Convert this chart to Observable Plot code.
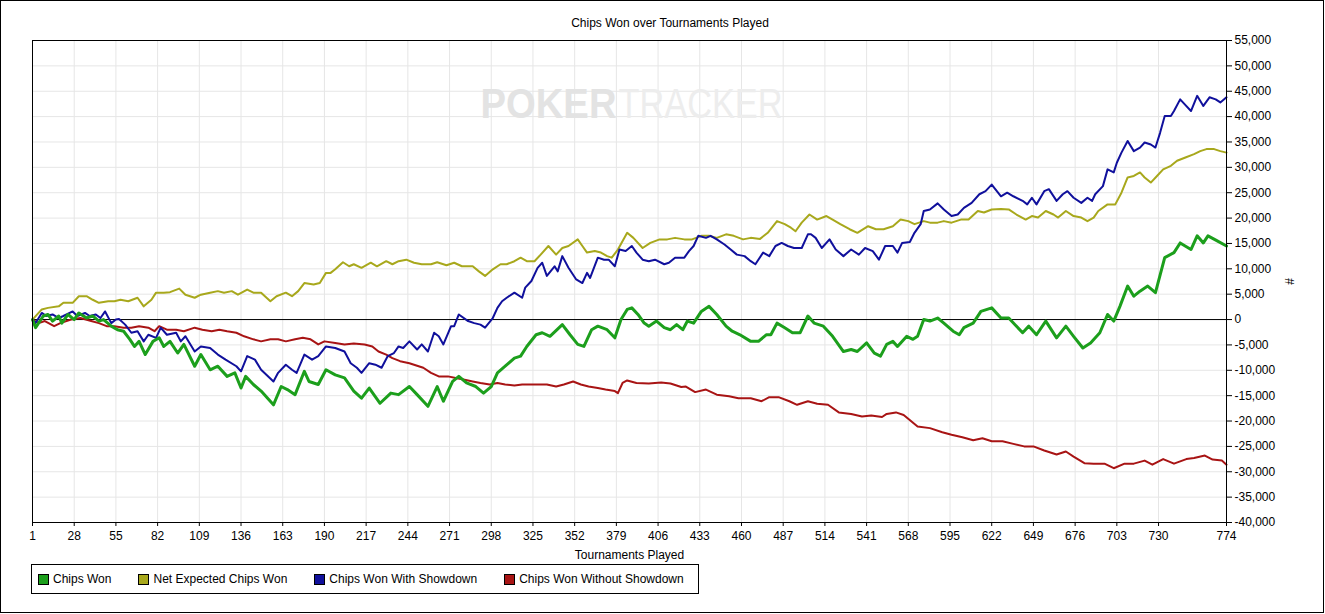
<!DOCTYPE html>
<html>
<head>
<meta charset="utf-8">
<script src="https://cdn.jsdelivr.net/npm/d3@7"></script>
<script src="https://cdn.jsdelivr.net/npm/@observablehq/plot@0.6"></script>
<style>
  html, body { margin: 0; padding: 0; background: #fff; }
  #wrap { position: relative; width: 1324px; height: 613px; box-sizing: border-box; border: 1px solid #000; background: #fff;
          font-family: "Liberation Sans", Arial, sans-serif; font-size: 12px; color: #000; overflow: hidden; }
  #title { height: 28px; box-sizing: border-box; padding-top: 15px; padding-left: 16px; line-height: 14px; text-align: center; }
  #chart svg { display: block; }
  #legend { position: absolute; left: 30px; top: 563px; width: 668px; height: 30px; box-sizing: border-box; border: 1px solid #000;
            display: flex; align-items: center; padding-left: 6px; }
  .item { display: flex; align-items: center; margin-right: 27px; white-space: nowrap; }
  .sw { width: 9px; height: 9px; border: 1px solid #000; margin-right: 4px; }
</style>
</head>
<body>
<div id="wrap">
  <div id="title">Chips Won over Tournaments Played</div>
  <div id="chart"></div>
  <div id="legend"></div>
</div>
<script>
// ---- data (tournament, chips) ----
const xTicks = [1, 28, 55, 82, 109, 136, 163, 190, 217, 244, 271, 298, 325, 352, 379, 406, 433, 460, 487, 514, 541, 568, 595, 622, 649, 676, 703, 730, 774];
const yTicks = [-40000, -35000, -30000, -25000, -20000, -15000, -10000, -5000, 0, 5000, 10000, 15000, 20000, 25000, 30000, 35000, 40000, 45000, 50000, 55000];

const chipsWon = [[1,0],[3,-1600],[8,700],[11,1000],[14,-300],[18,700],[20,-700],[24,1000],[28,0],[31,1300],[36,300],[40,700],[44,-300],[47,0],[52,-1300],[56,-2000],[60,-2300],[64,-3900],[67,-5300],[70,-4300],[74,-6900],[79,-4300],[83,-3600],[86,-5300],[90,-4300],[95,-6600],[99,-4900],[106,-9200],[110,-6900],[116,-9900],[121,-9200],[127,-11200],[132,-10500],[136,-13500],[139,-11200],[144,-12800],[149,-14100],[157,-16800],[162,-13200],[166,-13800],[171,-14800],[177,-10200],[180,-12200],[186,-12800],[191,-9900],[197,-10900],[203,-11500],[209,-14100],[214,-15500],[219,-13500],[226,-16500],[233,-14500],[238,-14800],[245,-13200],[250,-14800],[257,-17100],[263,-13200],[267,-16100],[273,-12200],[277,-11200],[282,-12500],[288,-13200],[293,-14500],[298,-13200],[302,-10500],[307,-9200],[313,-7600],[317,-7200],[321,-5300],[327,-3000],[331,-2600],[336,-3300],[344,-1000],[349,-3000],[354,-4900],[358,-5300],[363,-2000],[367,-1300],[373,-2000],[378,-3600],[382,0],[386,2000],[389,2300],[393,1000],[397,-700],[400,-1300],[405,-300],[410,-1600],[414,-2000],[418,-1000],[422,-2000],[425,-300],[429,-700],[434,1600],[439,2600],[444,1000],[450,-1300],[454,-2300],[459,-3000],[466,-4300],[471,-4300],[476,-3000],[479,-3000],[483,-700],[488,-1600],[493,-2600],[498,-2600],[503,700],[507,-700],[513,-1300],[519,-3300],[526,-6300],[531,-5900],[535,-6300],[541,-4600],[546,-6600],[550,-7200],[554,-4900],[558,-4300],[561,-5300],[567,-3300],[571,-3900],[574,-3300],[578,0],[582,-300],[587,300],[591,-700],[597,-2300],[601,-3000],[604,-1600],[610,-700],[615,1600],[622,2300],[628,300],[633,300],[642,-2600],[646,-1300],[651,-3000],[657,-300],[664,-3600],[670,-1300],[675,-3300],[681,-5600],[686,-4600],[692,-2600],[697,1000],[701,-300],[705,2600],[710,6600],[714,4600],[718,5600],[723,6600],[728,5300],[734,12200],[740,13200],[744,15100],[751,13800],[755,16500],[759,15100],[762,16500],[768,15500],[774,14500]];

const netExpected = [[1,0],[7,2000],[11,2300],[18,2600],[21,3300],[27,3300],[31,4600],[36,4600],[40,3900],[44,3300],[50,3600],[54,3600],[58,3900],[63,3600],[69,4300],[73,2600],[78,3900],[81,5300],[86,5300],[90,5400],[96,6100],[100,4900],[106,4300],[110,4900],[116,5300],[121,5600],[125,5300],[130,5600],[134,4900],[140,5900],[144,5300],[149,5300],[155,3600],[159,4600],[165,5300],[169,4600],[173,5600],[177,7200],[183,6900],[187,7200],[191,9200],[194,9200],[197,9900],[202,11300],[206,10500],[209,10900],[214,10200],[220,11200],[224,10500],[230,11500],[234,10900],[238,11500],[243,11800],[248,11200],[253,10900],[259,10900],[263,11300],[269,10700],[274,11200],[279,10500],[286,10500],[290,9500],[294,8600],[299,9900],[304,10900],[308,10900],[313,11500],[317,12200],[321,11500],[326,11500],[330,12800],[335,14500],[340,12800],[344,14100],[348,14500],[354,15800],[357,14500],[360,13200],[365,13500],[369,13200],[373,12500],[376,12200],[380,13800],[386,17100],[390,16100],[396,14100],[401,15100],[407,15800],[412,15800],[417,16100],[423,15800],[428,15800],[434,16500],[439,16500],[444,16100],[450,16800],[455,16500],[461,15800],[466,16100],[472,15900],[477,17100],[483,19400],[488,18800],[492,18100],[495,17400],[499,19100],[504,20700],[509,19700],[515,20400],[519,19700],[524,18800],[530,17800],[535,17100],[542,18400],[547,17800],[552,17800],[558,18400],[563,19700],[568,19400],[572,18800],[578,19400],[582,19100],[587,19100],[591,19400],[596,19100],[602,19700],[607,19700],[613,21400],[617,21100],[622,21700],[628,21800],[633,21700],[638,20700],[644,19700],[648,20400],[652,20100],[657,21400],[662,20700],[665,20100],[670,21400],[675,20400],[680,20100],[684,19400],[688,20100],[691,21400],[697,22700],[702,22700],[706,25000],[710,28000],[714,28300],[718,29000],[721,28000],[725,27000],[729,28300],[733,29600],[738,30300],[742,31300],[747,31900],[753,32600],[757,33200],[761,33600],[766,33600],[770,33200],[774,32900]];

const withShowdown = [[1,0],[3,-700],[7,1300],[10,700],[14,1000],[18,300],[21,700],[27,1600],[30,700],[35,1300],[38,700],[42,1000],[45,300],[48,1600],[52,-700],[55,0],[57,100],[61,-1000],[65,-2600],[69,-2300],[73,-4300],[76,-3000],[81,-3600],[84,-1600],[88,-3000],[94,-2600],[97,-4300],[100,-3300],[106,-6300],[110,-5300],[116,-5600],[121,-6900],[126,-7900],[133,-9200],[136,-10200],[140,-7200],[145,-7900],[149,-9900],[157,-12200],[160,-10500],[165,-8900],[169,-9900],[172,-10500],[177,-6900],[182,-7900],[186,-7200],[191,-5300],[197,-5600],[203,-6300],[207,-8600],[211,-9500],[214,-10500],[219,-8600],[223,-8900],[227,-9500],[231,-7200],[235,-6600],[238,-5300],[241,-5600],[245,-4300],[250,-5900],[253,-4900],[257,-6300],[261,-2600],[264,-3300],[267,-4900],[272,-1300],[274,-1300],[277,1000],[283,-300],[287,-700],[291,-1000],[294,-1600],[299,300],[302,2300],[305,3600],[308,4300],[313,5300],[318,4300],[320,6300],[324,7600],[328,10200],[331,11200],[334,8600],[339,10500],[341,9500],[344,12500],[348,10200],[353,7900],[357,7200],[360,9200],[362,8200],[367,12200],[371,11800],[374,11800],[378,10500],[381,13800],[385,13500],[389,14500],[392,13200],[396,11800],[400,11500],[404,11800],[410,10900],[413,11200],[417,12200],[423,12200],[426,13500],[429,14500],[432,16500],[437,16100],[440,16500],[444,15800],[449,14800],[453,13800],[457,12800],[462,12500],[466,11500],[469,10900],[474,13200],[478,12500],[482,14500],[486,15100],[490,14500],[494,14100],[499,14100],[503,16800],[505,16800],[508,16100],[512,14100],[517,15800],[521,13800],[526,12500],[531,13800],[536,12800],[540,14100],[545,13500],[549,11800],[553,14500],[558,14500],[561,13200],[564,15100],[569,15300],[572,17100],[576,18800],[578,21400],[582,21700],[587,22900],[591,21700],[596,20400],[600,20700],[604,22000],[609,23000],[614,24700],[618,25300],[622,26600],[628,24300],[632,25000],[636,24300],[642,23400],[645,22700],[648,24000],[651,22700],[656,25300],[659,25700],[664,23400],[668,24700],[671,25300],[675,24000],[680,23000],[684,24000],[687,23400],[689,24700],[694,26300],[697,29600],[701,29000],[703,30900],[706,32900],[710,35200],[714,33200],[718,33900],[721,34900],[725,34500],[728,33900],[731,36800],[734,40100],[738,40100],[740,41100],[744,43400],[747,42400],[751,41100],[755,44100],[759,42100],[763,43800],[767,43400],[770,42800],[774,43800]];

const withoutShowdown = [[1,0],[5,-700],[9,-300],[15,-1300],[19,-700],[26,0],[32,300],[39,-300],[44,-700],[49,-1300],[54,-1300],[60,-1600],[65,-1600],[70,-1300],[76,-1600],[80,-2300],[83,-1300],[88,-2000],[94,-2000],[99,-2300],[106,-1600],[111,-2000],[117,-2300],[122,-2000],[127,-2300],[133,-2600],[138,-3300],[144,-3900],[149,-4300],[155,-3900],[160,-3900],[165,-4300],[171,-3900],[176,-3600],[181,-3900],[186,-4900],[190,-4300],[197,-4600],[203,-4900],[209,-4700],[216,-4900],[221,-5300],[225,-6300],[230,-6900],[234,-7600],[239,-8200],[245,-8600],[250,-9100],[254,-9500],[259,-10500],[264,-11200],[270,-11200],[275,-11500],[280,-11800],[286,-12200],[291,-12500],[297,-12800],[302,-12500],[307,-12800],[313,-13000],[318,-12800],[324,-12800],[329,-12800],[334,-12800],[340,-13200],[345,-12800],[351,-12200],[356,-12800],[361,-13200],[367,-13500],[372,-13800],[378,-14100],[380,-14500],[383,-12500],[386,-12000],[392,-12500],[400,-12600],[408,-12400],[414,-12600],[421,-13300],[424,-13200],[430,-14300],[437,-13800],[444,-14800],[452,-15100],[458,-15500],[466,-15500],[473,-16100],[478,-15300],[484,-15300],[491,-16100],[496,-16800],[503,-16100],[509,-16600],[516,-16800],[523,-18300],[531,-18600],[538,-19100],[544,-18900],[551,-19200],[554,-18600],[560,-18300],[565,-18800],[574,-21100],[582,-21400],[590,-22200],[596,-22700],[603,-23200],[610,-23800],[616,-23400],[622,-24000],[629,-24000],[636,-24500],[643,-25000],[649,-25000],[656,-25800],[664,-26600],[670,-26000],[675,-27000],[682,-28300],[688,-28400],[695,-28400],[701,-29300],[708,-28400],[714,-28400],[721,-27800],[726,-28600],[733,-27500],[740,-28400],[748,-27500],[753,-27300],[760,-26800],[765,-27600],[771,-27800],[774,-28600]];

const seriesNames = ["Chips Won", "Net Expected Chips Won", "Chips Won With Showdown", "Chips Won Without Showdown"];
const seriesColors = ["#1c9f1c", "#a8a81c", "#10109c", "#a81414"];
const seriesWidths = [3, 2, 2, 2];
const seriesData = [chipsWon, netExpected, withShowdown, withoutShowdown];

const toRows = arr => arr.map(([t, v]) => ({t, v}));
const fmt = d => (d < 0 ? "-" : "") + d3.format(",")(Math.abs(d));

// draw order: olive, red, blue, green
const order = [1, 3, 2, 0];

const chart = Plot.plot({
  width: 1322,
  height: 533,
  marginLeft: 31,
  marginRight: 97,
  marginTop: 11,
  marginBottom: 40,
  style: {fontFamily: "'Liberation Sans', Arial, sans-serif", fontSize: "12px", color: "#000", background: "#fff", overflow: "visible"},
  x: {domain: [1, 774]},
  y: {domain: [-40000, 55000]},
  marks: [
    Plot.gridX(xTicks, {stroke: "#e6e6e6", strokeOpacity: 1}),
    Plot.gridY(yTicks, {stroke: "#e6e6e6", strokeOpacity: 1}),
    Plot.text(["POKER"], {text: d => d, frameAnchor: "top-left", dx: 448, dy: 48, textAnchor: "start", fontSize: 42, fontWeight: "bold", fill: "#e3e3e3"}),
    Plot.text(["TRACKER"], {text: d => d, frameAnchor: "top-left", dx: 586, dy: 48, textAnchor: "start", fontSize: 42, fill: "#ededed"}),
    Plot.ruleY([0], {stroke: "#000", strokeWidth: 1}),
    ...order.map(i => Plot.line(toRows(seriesData[i]), {x: "t", y: "v", stroke: seriesColors[i], strokeWidth: seriesWidths[i]})),
    Plot.frame({stroke: "#000"}),
    Plot.axisX(xTicks, {tickSize: 4, tickPadding: 5, tickFormat: d => String(d), label: "Tournaments Played", labelAnchor: "center", labelArrow: "none", labelOffset: 36}),
    Plot.axisY(yTicks, {anchor: "right", tickSize: 5, tickPadding: 3, tickFormat: fmt, label: "#", labelAnchor: "center", labelArrow: "none", labelOffset: 67})
  ]
});

document.getElementById("chart").appendChild(chart);

// condense watermark words
d3.select(chart).selectAll("text").each(function() {
  const t = this.textContent;
  if (t === "POKER") { this.setAttribute("textLength", 136); this.setAttribute("lengthAdjust", "spacingAndGlyphs"); }
  if (t === "TRACKER") { this.setAttribute("textLength", 164); this.setAttribute("lengthAdjust", "spacingAndGlyphs"); }
});

// legend
const legend = d3.select("#legend");
seriesNames.forEach((name, i) => {
  const it = legend.append("div").attr("class", "item");
  it.append("div").attr("class", "sw").style("background", seriesColors[i]);
  it.append("span").text(name);
});
</script>
</body>
</html>
